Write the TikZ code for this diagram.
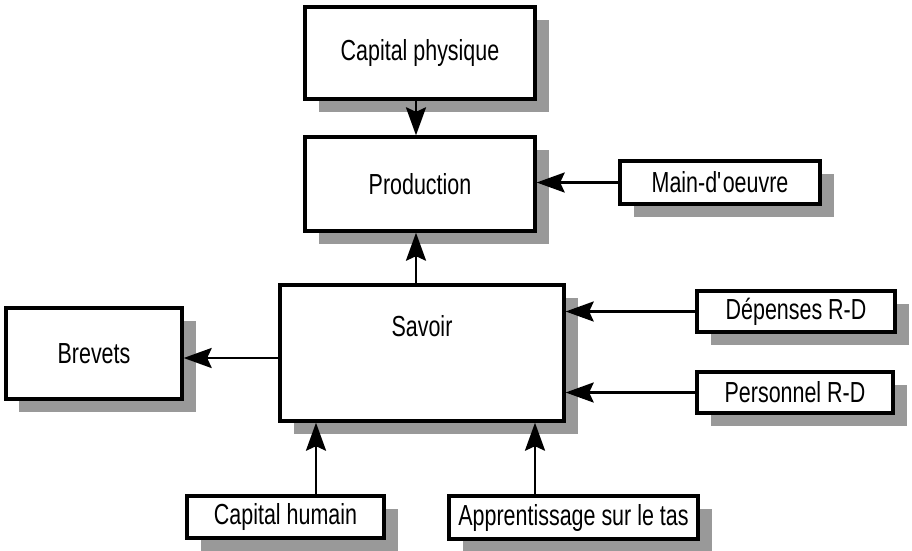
\documentclass[tikz,border=0pt]{standalone}
\usepackage{fontspec}
\setmainfont{Liberation Sans}[FakeStretch=0.74]
\usetikzlibrary{arrows.meta,shadows}

\tikzset{
  boite/.style={draw, line width=1.9pt, fill=white, align=center,
    font=\fontsize{16.5}{19}\selectfont,
    drop shadow={shadow xshift=2.7mm, shadow yshift=-2.6mm, fill=black!40, opacity=1}},
  fleche/.style={line width=1.6pt, -{Stealth[length=5.6mm,width=4mm,inset=0.9mm]}}
}

\begin{document}
\begin{tikzpicture}[x=0.2mm, y=-0.2mm]
  \useasboundingbox (0,0) rectangle (912,550);

  % Boxes
  \node[boite, minimum width=46mm, minimum height=18.4mm] (cap) at (420,53) {Capital physique};
  \node[boite, minimum width=46mm, minimum height=18.8mm] (prod) at (420,184) {Production};
  \node[boite, minimum width=40mm, minimum height=8.6mm] (main) at (720,182.5) {Main-d\textquotesingle oeuvre};
  \node[boite, minimum width=56.8mm, minimum height=27.2mm,
        label={[yshift=5.4mm, font=\fontsize{16.5}{19}\selectfont]center:Savoir}] (sav) at (422,353) {};
  \node[boite, minimum width=35.2mm, minimum height=18.2mm] (brev) at (94,353.5) {Brevets};
  \node[boite, minimum width=39.6mm, minimum height=8.2mm] (dep) at (796,311.5) {Dépenses R-D};
  \node[boite, minimum width=39.2mm, minimum height=8.2mm] (pers) at (795,392.5) {Personnel R-D};
  \node[boite, minimum width=39.4mm, minimum height=8.4mm] (hum) at (285.5,517) {Capital humain};
  \node[boite, minimum width=49.8mm, minimum height=8.6mm] (app) at (573.5,517.5) {Apprentissage sur le tas};

  % Arrows
  \draw[fleche] ([xshift=-0.8mm]cap.south) -- ([xshift=-0.8mm]cap.south |- prod.north);
  \draw[fleche] (main.west) -- (main.west -| prod.east);
  \draw[fleche] ([xshift=-1.2mm]sav.north) -- ([xshift=-1.2mm]sav.north |- prod.south);
  \draw[fleche] ([yshift=-1mm]sav.west) -- ([yshift=-1mm]sav.west -| brev.east);
  \draw[fleche] (dep.west) -- (dep.west -| sav.east);
  \draw[fleche] (pers.west) -- (pers.west -| sav.east);
  \draw[fleche] ([xshift=6.1mm]hum.north) -- ([xshift=6.1mm]hum.north |- sav.south);
  \draw[fleche] ([xshift=-7.7mm]app.north) -- ([xshift=-7.7mm]app.north |- sav.south);
\end{tikzpicture}
\end{document}
